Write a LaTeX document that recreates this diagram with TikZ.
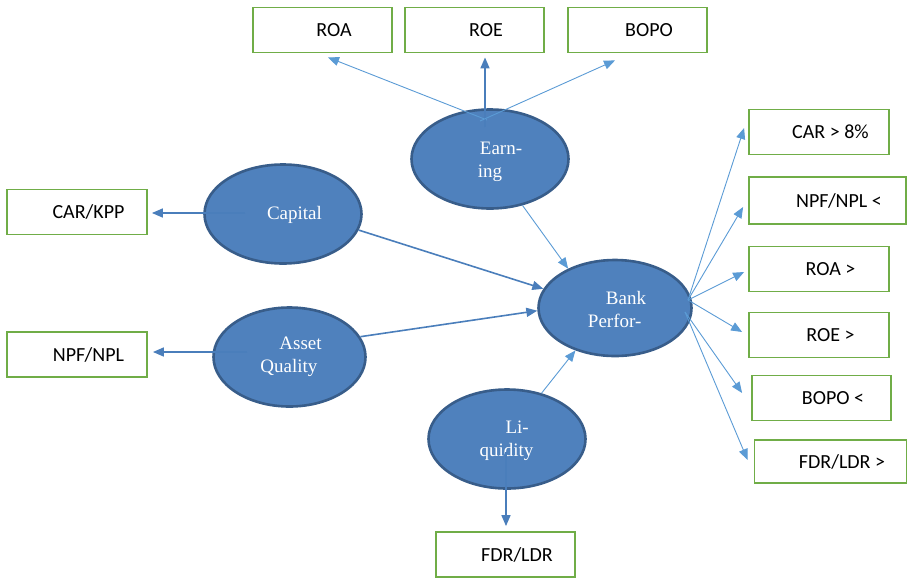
\documentclass[tikz,border=0pt]{standalone}
\usepackage{fontspec}
\setmainfont{Liberation Serif}
\newfontfamily\boxfont{Carlito}
\usetikzlibrary{arrows.meta,shapes.geometric,calc}
\definecolor{ellfill}{HTML}{4F81BD}
\definecolor{elldraw}{HTML}{385D8A}
\definecolor{boxgreen}{HTML}{70AD47}
\definecolor{lightarr}{HTML}{5B9BD5}
\definecolor{darkarr}{HTML}{4A7EBB}
\begin{document}
\begin{tikzpicture}[x=1pt,y=-1pt,
 ell/.style={ellipse, draw=elldraw, fill=ellfill, line width=2.6pt, inner sep=0pt},
 elltext/.style={text=white, font=\fontsize{19}{23}\selectfont, align=left, inner sep=0pt},
 kbox/.style={draw=boxgreen, line width=1.8pt, fill=white, inner sep=0pt, minimum width=139pt, minimum height=45pt, font=\boxfont\fontsize{20}{24}\selectfont, execute at begin node=\hspace*{23pt}},
 larr/.style={draw=lightarr, line width=0.9pt, -{Triangle[length=11pt,width=9pt]}},
 darr/.style={draw=darkarr, line width=1.6pt, -{Triangle[length=11pt,width=9pt]}},
]
\useasboundingbox (0,0) rectangle (909,579);

% boxes
\node[kbox] (roa)    at (322.5,30) {ROA};
\node[kbox] (roe)    at (474.5,30) {ROE};
\node[kbox] (bopo)   at (637.5,30) {BOPO};
\node[kbox, minimum width=140pt] (carkpp) at (77,212) {CAR/KPP};
\node[kbox, minimum width=140pt] (npfl)   at (77,354.5) {NPF/NPL};
\node[kbox] (fdrb)   at (505.5,554.5) {FDR/LDR};
\node[kbox, minimum width=140pt] (car)  at (819,132) {CAR > 8\%};
\node[kbox, minimum width=157pt, minimum height=47pt] (npfr) at (827.5,200.5) {NPF/NPL <};
\node[kbox, minimum width=140pt] (roar) at (819,269) {ROA >};
\node[kbox, minimum width=140pt] (roer) at (819,335) {ROE >};
\node[kbox] (bopor) at (821.5,398) {BOPO <};
\node[kbox, minimum width=152pt, minimum height=43pt] (fdrr) at (830.5,461.5) {FDR/LDR >};

% ellipses
\node[ell, minimum width=157pt, minimum height=99pt] (earn)  at (490,159) {};
\node[ell, minimum width=157pt, minimum height=99pt] (cap)   at (283,214) {};
\node[ell, minimum width=152pt, minimum height=99pt] (asset) at (289.5,357) {};
\node[ell, minimum width=153pt, minimum height=96pt] (bank)  at (615,308) {};
\node[ell, minimum width=157pt, minimum height=99pt] (liq)   at (507,439) {};

\node[elltext] (earnt)  at (500,162)   {\hspace*{2pt}Earn-\\ing};
\node[elltext] (capt)   at (294.5,215) {Capital};
\node[elltext] (assett) at (291,357)   {\hspace*{19pt}Asset\\Quality};
\node[elltext] (bankt)  at (617,309)   {\hspace*{18pt}Bank\\Perfor-};
\node[elltext] (liqt)   at (506.5,441) {\hspace*{26pt}Li-\\quidity};

% start points
\coordinate (e1) at ($(earn.center)+(-3,-39)$);
\coordinate (e2) at ($(earn.center)+(-5,-32)$);
\coordinate (e3) at ($(earn.center)+(-10,-38)$);
\coordinate (c0) at ($(cap.center)+(-38,-1)$);
\coordinate (a0) at ($(asset.center)+(-42.5,-5)$);
\coordinate (l0) at ($(liq.center)+(-1,13)$);
\coordinate (b1) at ($(bank.center)+(73,-8)$);
\coordinate (b2) at ($(bank.center)+(70,4)$);

% connectors
\draw[larr] (e1) -- ($(roa.south)+(5.5,4)$);
\draw[darr] (e2) -- ($(e2 |- roe.south)+(0,4)$);
\draw[larr] (e3) -- ($(bopo.south)+(-22.5,7)$);
\draw[larr] (earn.-55) -- (bank.140);
\draw[darr] (cap.-12) -- (bank.165);
\draw[darr] (asset.16) -- (bank.182);
\draw[larr] (liq.53) -- (bank.-133);
\draw[darr] (l0) -- ($(l0 |- fdrb.north)+(0,-5)$);
\draw[darr] (c0) -- ($(c0 -| carkpp.east)+(4,0)$);
\draw[darr] (a0) -- ($(a0 -| npfl.east)+(5,0)$);

\draw[larr] (b1) -- ($(car.west)+(-4,-4)$);
\draw[larr] (b1) -- ($(npfr.west)+(-5,6.5)$);
\draw[larr] (b1) -- ($(roar.west)+(-4,3)$);
\draw[larr] (b1) -- ($(roer.west)+(-6,-3)$);
\draw[larr] (b2) -- ($(bopor.west)+(-9,-5)$);
\draw[larr] (b2) -- ($(fdrr.west)+(-6,-1.5)$);
\end{tikzpicture}
\end{document}
